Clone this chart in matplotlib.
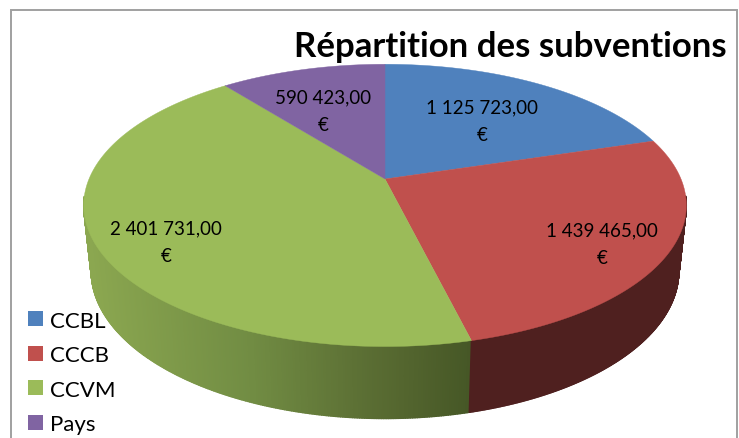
import numpy as np
import matplotlib
matplotlib.use("Agg")
import matplotlib.pyplot as plt
from matplotlib.patches import Polygon, Patch
from matplotlib.collections import PolyCollection
from matplotlib.colors import to_rgb

categories = ["CCBL", "CCCB", "CCVM", "Pays"]
values = [1125723.00, 1439465.00, 2401731.00, 590423.00]
value_labels = ["1 125 723,00\n€", "1 439 465,00\n€", "2 401 731,00\n€", "590 423,00\n€"]
title = "Répartition des subventions"

colors = ["#4F81BD", "#C0504D", "#9BBB59", "#8064A2"]
label_pos = [(482, 122), (602, 245), (166, 243), (323, 112)]

plt.rcParams["font.family"] = ["Lato", "DejaVu Sans"]
fig = plt.figure(figsize=(7.39, 4.39), dpi=100)
ax = fig.add_axes([0, 0, 1, 1])
ax.set_xlim(0, 739)
ax.set_ylim(439, 0)
ax.axis("off")

# frame (open at the bottom)
ax.plot([11, 11, 737, 737], [439, 11, 11, 439], color="#A0A0A0", lw=1.4, solid_joinstyle="miter")

# perspective projection of the pie disc
CX, CY, A, C, K = 385.0, 180.0, 296.0, 136.2, 0.187


def top(t):
    x, y = np.sin(t), np.cos(t)
    return CX + A * x / (1 + K * y), CY - C * y / (1 + K * y)


def bottom(t):
    x, y = np.sin(t), np.cos(t)
    return CX + 0.975 * A * x / (1 + K * y), CY + 64.3 - 1.046 * C * y / (1 + K * y)


fractions = np.array(values) / np.sum(values)
edges = np.concatenate([[0], np.cumsum(fractions)]) * 2 * np.pi

# green wall shade depends on the horizontal position
shade_x = [88, 250, 370, 470]
shade_c = np.array([to_rgb(c) for c in ["#8BA750", "#718C43", "#5A6D33", "#465726"]])
red_wall = to_rgb("#4F201F")

for i in [2, 1]:
    ts = np.linspace(edges[i], edges[i + 1], 400)
    ts = ts[np.cos(ts) < -0.12]
    quads, cols = [], []
    for t0, t1 in zip(ts[:-1], ts[1:]):
        x0, y0 = top(t0)
        x1, y1 = top(t1)
        x2, y2 = bottom(t1)
        x3, y3 = bottom(t0)
        quads.append([(x0, y0), (x1, y1), (x2, y2), (x3, y3)])
        xm = (x0 + x1) / 2
        if i == 2:
            cols.append([np.interp(xm, shade_x, shade_c[:, k]) for k in range(3)])
        else:
            cols.append(red_wall)
    ax.add_collection(PolyCollection(quads, facecolors=cols, edgecolors=cols, linewidths=1.0))

# top face
for i in range(len(values)):
    ts = np.linspace(edges[i], edges[i + 1], 300)
    xs, ys = top(ts)
    pts = np.column_stack([np.r_[CX, xs], np.r_[CY, ys]])
    ax.add_patch(Polygon(pts, closed=True, facecolor=colors[i], edgecolor=colors[i], lw=0.3, zorder=3))

for txt, (x, y) in zip(value_labels, label_pos):
    ax.text(x, y, txt, ha="center", va="center", fontsize=13.5, color="black", linespacing=1.75, zorder=4)

ax.text(727, 47, title, ha="right", va="center", fontsize=25, fontweight="bold", color="black", zorder=5)

handles = [Patch(facecolor=c, edgecolor="none") for c in colors]
ax.legend(handles, categories, loc="lower left", bbox_to_anchor=(28 / 739, 1 - 435 / 439),
          frameon=False, fontsize=16, handlelength=0.675, handleheight=0.675, handletextpad=0.3,
          labelspacing=0.65, borderpad=0, borderaxespad=0)

fig.savefig("out.png", dpi=100)
